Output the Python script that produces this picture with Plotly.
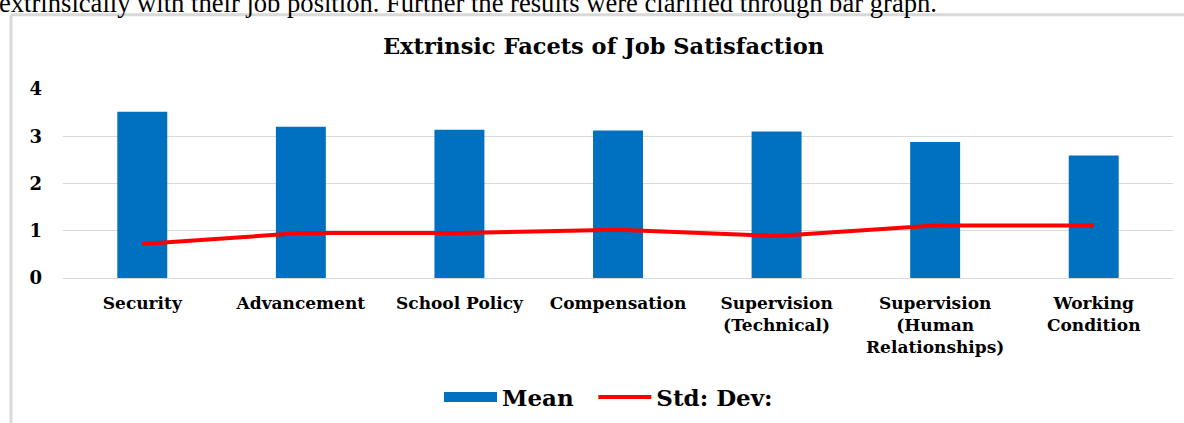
import plotly.graph_objects as go

categories = ["Security", "Advancement", "School Policy", "Compensation",
              "Supervision<br>(Technical)", "Supervision<br>(Human<br>Relationships)",
              "Working<br>Condition"]
mean_values = [3.52, 3.20, 3.14, 3.12, 3.10, 2.88, 2.59]
std_values = [0.72, 0.95, 0.95, 1.02, 0.89, 1.11, 1.11]
y_ticks = [0, 1, 2, 3, 4]

SERIF = "DejaVu Serif, serif"
TEXT_SERIF = "Liberation Serif, Times New Roman, serif"
BAR_COLOR = "#0070C0"
LINE_COLOR = "#FF0000"

fig = go.Figure()
fig.add_trace(go.Bar(x=categories, y=mean_values, name="<b>Mean</b>", showlegend=False,
                     marker=dict(color=BAR_COLOR, line=dict(width=0))))
# legend key for the bars (wide rectangle like the original)
fig.add_trace(go.Scatter(x=[None], y=[None], name="<b>Mean</b>\u00a0\u00a0", mode="lines",
                         line=dict(color=BAR_COLOR, width=11), hoverinfo="skip"))
fig.add_trace(go.Scatter(x=categories, y=std_values, name="<b>Std: Dev:</b>",
                         mode="lines", line=dict(color=LINE_COLOR, width=4)))

W, H = 1184, 423
L, R, T, B = 63, 11, 89, 145
pw = W - L - R
ph = H - T - B

def px2x(px):
    return (px - L) / pw

def py2y(py):
    return (H - B - py) / ph

fig.update_layout(
    width=W, height=H,
    margin=dict(l=L, r=R, t=T, b=B, autoexpand=False),
    paper_bgcolor="white", plot_bgcolor="white",
    bargap=0.685,
    title=dict(text="<b>Extrinsic Facets of Job Satisfaction</b>",
               x=px2x(603.5), xref="paper", xanchor="center", y=1 - 46.5 / H, yanchor="middle",
               font=dict(family=SERIF, size=22.5, color="black")),
    font=dict(family=SERIF, color="black"),
    showlegend=True,
    legend=dict(orientation="h", x=px2x(439), xanchor="left", y=py2y(397), yanchor="middle",
                font=dict(family=SERIF, size=23, color="black"),
                itemwidth=53, traceorder="normal", bgcolor="rgba(0,0,0,0)"),
    xaxis=dict(showgrid=False, showline=False, zeroline=False, ticks="", automargin=False,
               tickfont=dict(family=SERIF, size=17, color="black"),
               ticklabelstandoff=13,
               tickvals=categories,
               ticktext=["<b>" + c.replace("<br>", "</b><br><b>") + "</b>" for c in categories]),
    yaxis=dict(range=[0, 4], tickvals=y_ticks, automargin=False,
               ticktext=["<b>%d</b>" % v for v in y_ticks],
               showgrid=True, gridcolor="#d9d9d9", gridwidth=1,
               zeroline=True, zerolinecolor="#d9d9d9", zerolinewidth=1,
               showline=False, ticks="", ticklabelstandoff=20,
               tickfont=dict(family=SERIF, size=18, color="black")),
)

# outer chart frame (partially visible)
fig.add_shape(type="line", xref="paper", yref="paper",
              x0=px2x(11), x1=px2x(W + 5), y0=py2y(14.7), y1=py2y(14.7),
              line=dict(color="#d9d9d9", width=3))
fig.add_shape(type="line", xref="paper", yref="paper",
              x0=px2x(11), x1=px2x(11), y0=py2y(14.7), y1=py2y(H + 5),
              line=dict(color="#d9d9d9", width=3))

# surrounding document text (cut off at top)
fig.add_annotation(text="extrinsically with their job position. Further the results were clarified through bar graph.",
                   xref="paper", yref="paper", x=px2x(-3), y=py2y(20),
                   xanchor="left", yanchor="bottom", showarrow=False,
                   font=dict(family=TEXT_SERIF, size=26.6, color="black"))

fig.write_html("out.html",
               config={"displayModeBar": False},
               post_script="document.body.style.margin='0';document.body.style.padding='0';"
                           "document.body.style.overflow='hidden';")
